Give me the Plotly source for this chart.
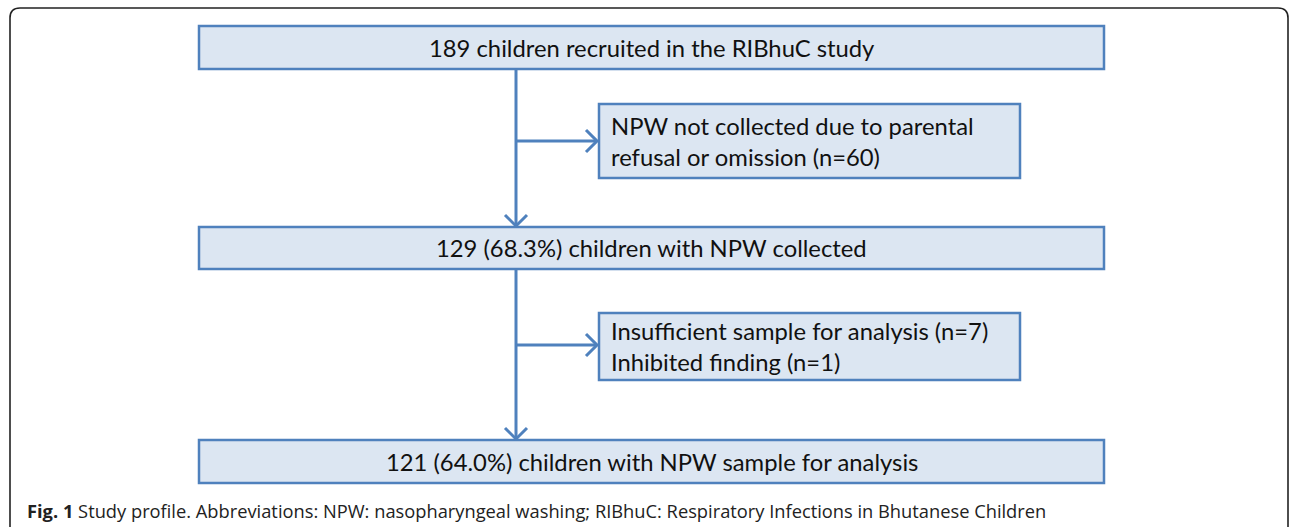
import plotly.graph_objects as go

# ---- content ----
main_labels = [
    "189 children recruited in the RIBhuC study",
    "129 (68.3%) children with NPW collected",
    "121 (64.0%) children with NPW sample for analysis",
]
side_labels = [
    ["NPW not collected due to parental", "refusal or omission (n=60)"],
    ["Insufficient sample for analysis (n=7)", "Inhibited finding (n=1)"],
]
caption_bold = "Fig. 1"
caption_text = " Study profile. Abbreviations: NPW: nasopharyngeal washing; RIBhuC: Respiratory Infections in Bhutanese Children"

# ---- layout geometry (pixels) ----
W, H = 1290, 527
main_x = (199, 1104)
main_y = [(26, 69), (227, 269), (440, 483)]
side_x = (599, 1020)
side_y = [(104, 178), (313, 380)]
spine_x = 516
branch_y = [141, 345]

BLUE = "#4F81BD"
FILL = "#DCE6F2"
FONT = "Lato"

shapes = []
annotations = []

# outer rounded frame
r = 10
shapes.append(dict(
    type="path", xref="x", yref="y",
    path=f"M 10,{H+5} L 10,{8+r} Q 10,8 {10+r},8 L {W-2-r},8 Q {W-2},8 {W-2},{8+r} L {W-2},{H+5}",
    line=dict(color="#222222", width=1.6),
))

def chevron(x, y, direction, size=11):
    if direction == "down":
        return f"M {x-size},{y-size} L {x},{y} L {x+size},{y-size}"
    return f"M {x-size},{y-size} L {x},{y} L {x-size},{y+size}"

# spine
shapes.append(dict(type="line", xref="x", yref="y", x0=spine_x, x1=spine_x,
                   y0=main_y[0][1], y1=main_y[1][0] - 1, line=dict(color=BLUE, width=3)))
shapes.append(dict(type="line", xref="x", yref="y", x0=spine_x, x1=spine_x,
                   y0=main_y[1][1], y1=main_y[2][0] - 1, line=dict(color=BLUE, width=3)))
for (y0, y1) in [main_y[1], main_y[2]]:
    shapes.append(dict(type="path", xref="x", yref="y", path=chevron(spine_x, y0 - 1, "down"),
                       line=dict(color=BLUE, width=3)))
# branches
for by in branch_y:
    shapes.append(dict(type="line", xref="x", yref="y", x0=spine_x, x1=side_x[0] - 2,
                       y0=by, y1=by, line=dict(color=BLUE, width=3)))
    shapes.append(dict(type="path", xref="x", yref="y", path=chevron(side_x[0] - 2, by, "right"),
                       line=dict(color=BLUE, width=3)))

# boxes
for (y0, y1) in main_y:
    shapes.append(dict(type="rect", xref="x", yref="y", x0=main_x[0], x1=main_x[1], y0=y0, y1=y1,
                       fillcolor=FILL, line=dict(color=BLUE, width=2.5)))
for (y0, y1) in side_y:
    shapes.append(dict(type="rect", xref="x", yref="y", x0=side_x[0], x1=side_x[1], y0=y0, y1=y1,
                       fillcolor=FILL, line=dict(color=BLUE, width=2.5)))

# main labels
for lab, (y0, y1) in zip(main_labels, main_y):
    annotations.append(dict(x=(main_x[0] + main_x[1]) / 2, y=(y0 + y1) / 2, xref="x", yref="y",
                            text=lab, showarrow=False, xanchor="center", yanchor="middle",
                            font=dict(family=FONT, size=23.8, color="#111111")))
# side labels
for lines, (y0, y1) in zip(side_labels, side_y):
    annotations.append(dict(x=side_x[0] + 10, y=(y0 + y1) / 2, xref="x", yref="y",
                            text="<br>".join(lines), showarrow=False, xanchor="left", yanchor="middle",
                            align="left",
                            font=dict(family=FONT, size=23.8, color="#111111")))
# caption
annotations.append(dict(x=25, y=510, xref="x", yref="y",
                        text=f"<b>{caption_bold}</b>{caption_text}", showarrow=False,
                        xanchor="left", yanchor="middle",
                        font=dict(family="Open Sans", size=18.3, color="#222222")))

fig = go.Figure()
fig.update_layout(
    width=W, height=H, margin=dict(l=0, r=0, t=0, b=0),
    paper_bgcolor="white", plot_bgcolor="white",
    xaxis=dict(range=[0, W], visible=False, fixedrange=True),
    yaxis=dict(range=[H, 0], visible=False, fixedrange=True),
    shapes=shapes, annotations=annotations, showlegend=False,
)
fig.write_html("out.html", config={"displayModeBar": False},
               post_script="document.body.style.margin='0';document.body.style.overflow='hidden';")
